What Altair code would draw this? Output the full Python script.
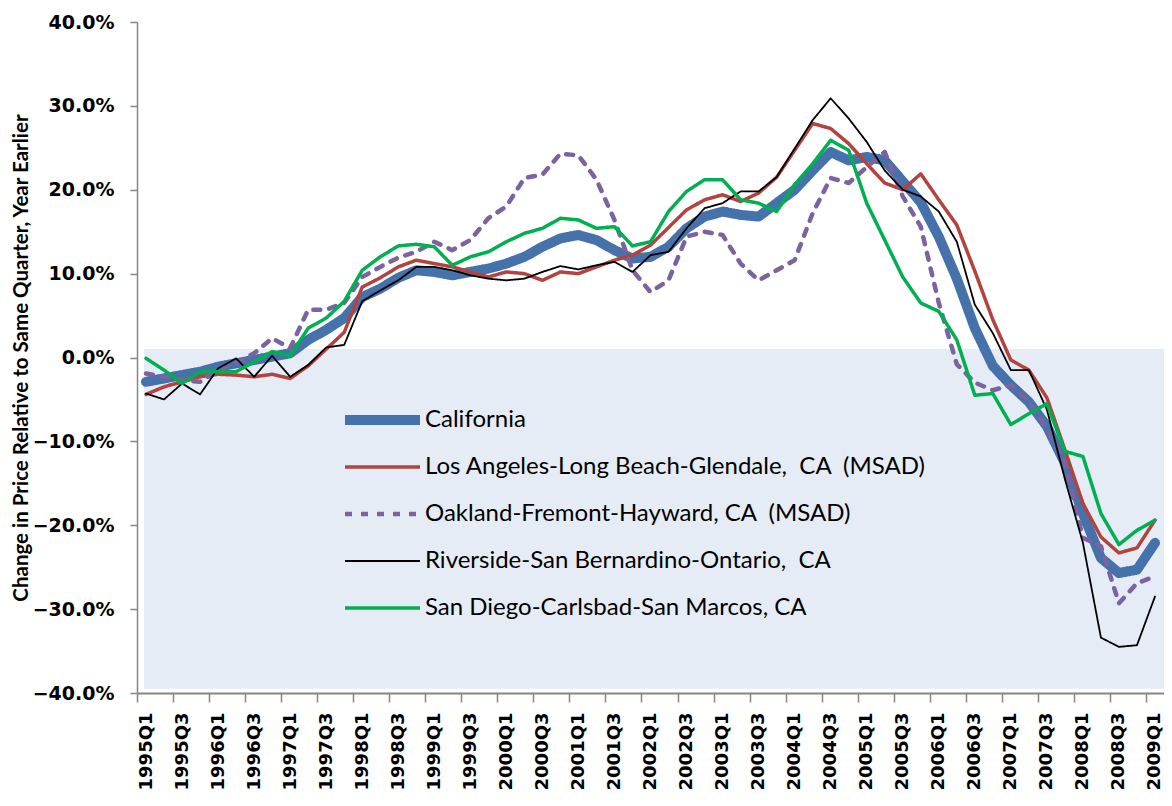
import altair as alt
import pandas as pd

# ---------------- data ----------------
quarters = [f"{y}Q{q}" for y in range(1995, 2010) for q in (1, 2, 3, 4)][:57]
tick_quarters = quarters[::2]

NB = "\u00a0"
series_names = [
    "California",
    f"Los Angeles-Long Beach-Glendale,{NB} CA{NB} (MSAD)",
    f"Oakland-Fremont-Hayward, CA{NB} (MSAD)",
    f"Riverside-San Bernardino-Ontario,{NB} CA",
    "San Diego-Carlsbad-San Marcos, CA",
]
series_colors = ["#4672AB", "#B3433F", "#7B62A0", "#000000", "#00B050"]
series_widths = [10, 3.5, 4.5, 1.8, 3.5]
series_dashes = [[1, 0], [1, 0], [7, 9], [1, 0], [1, 0]]

california = [-2.9, -2.5, -2.1, -1.7, -1.1, -0.7, -0.3, 0.1, 0.5, 2.1, 3.3, 4.7, 7.2, 8.2, 9.5,
              10.4, 10.2, 9.8, 10.2, 10.6, 11.2, 12.0, 13.2, 14.2, 14.6, 14.0, 12.8, 11.8, 12.0,
              13.2, 15.4, 16.8, 17.4, 17.0, 16.8, 18.4, 20.0, 22.3, 24.5, 23.5, 23.9, 23.5, 21.0,
              18.5, 14.4, 9.4, 3.5, -1.0, -3.3, -5.3, -8.2, -12.6, -18.6, -23.9, -25.7, -25.3, -22.1]
los_angeles = [-4.4, -3.5, -2.9, -2.3, -2.0, -2.1, -2.3, -2.0, -2.5, -1.0, 1.0, 3.0, 8.4, 9.5, 10.8,
               11.6, 11.2, 10.8, 10.2, 9.6, 10.2, 10.0, 9.2, 10.2, 10.0, 10.8, 11.6, 12.2, 13.4,
               15.5, 17.6, 18.8, 19.4, 18.6, 19.6, 21.5, 24.7, 27.9, 27.3, 25.5, 23.1, 20.8, 20.0,
               21.9, 18.8, 15.8, 10.3, 4.5, -0.3, -1.5, -4.8, -11.0, -17.4, -21.4, -23.3, -22.7, -19.4]
oakland = [-1.9, -2.3, -2.7, -2.9, -1.5, -0.7, 0.5, 2.3, 1.1, 5.7, 5.7, 6.5, 9.6, 10.8, 11.9,
           12.6, 13.8, 12.8, 14.0, 16.6, 18.0, 21.4, 21.8, 24.3, 24.1, 21.2, 16.4, 10.4, 7.8,
           9.2, 14.4, 15.0, 14.6, 11.2, 9.2, 10.4, 11.6, 17.2, 21.4, 20.8, 22.7, 24.5, 19.2,
           15.6, 6.5, -0.8, -3.0, -3.9, -3.3, -5.2, -8.5, -12.5, -21.5, -22.5, -29.3, -26.9, -26.1]
riverside = [-4.3, -5.0, -3.1, -4.4, -1.3, -0.1, -2.3, 0.2, -2.3, -0.9, 1.2, 1.5, 6.7, 8.0, 9.2,
             10.8, 10.8, 10.4, 9.8, 9.4, 9.2, 9.4, 10.2, 10.9, 10.5, 11.0, 11.4, 10.2, 12.2,
             12.6, 15.4, 17.8, 18.4, 19.8, 19.8, 21.5, 24.9, 28.3, 30.9, 28.5, 25.7, 22.3, 20.0,
             19.2, 17.4, 13.8, 6.3, 2.9, -1.5, -1.5, -6.2, -14.5, -22.1, -33.4, -34.5, -34.3, -28.5]
san_diego = [-0.1, -1.5, -3.1, -1.7, -1.7, -1.7, -0.5, 0.7, 0.2, 3.5, 4.7, 6.7, 10.4, 12.0, 13.3,
             13.5, 13.2, 11.0, 12.0, 12.6, 13.8, 14.8, 15.4, 16.6, 16.4, 15.4, 15.6, 13.3, 13.8,
             17.4, 19.8, 21.2, 21.2, 18.8, 18.4, 17.4, 20.6, 23.1, 25.9, 24.7, 18.4, 14.0, 9.6,
             6.5, 5.5, 2.1, -4.5, -4.3, -8.0, -6.7, -5.5, -11.2, -11.8, -18.6, -22.3, -20.6, -19.4]

series_values = [california, los_angeles, oakland, riverside, san_diego]
shade_bounds = [-39.5, 1.0]
y_ticks = [-40, -30, -20, -10, 0, 10, 20, 30, 40]

for vals in series_values:
    assert len(vals) == len(quarters)

rows = []
for name, vals in zip(series_names, series_values):
    for q, v in zip(quarters, vals):
        rows.append({"series": name, "quarter": q, "value": v})
df = pd.DataFrame(rows)
shade_df = pd.DataFrame({"lo": [shade_bounds[0]], "hi": [shade_bounds[1]]})

# ---------------- layout ----------------
W, H = 1027, 671
step = W / len(quarters)
y_title = "Change in Price Relative to Same Quarter, Year Earlier"

yscale = alt.Scale(domain=[-40, 40], nice=False, zero=False)
yaxis = alt.Axis(values=y_ticks, labelExpr="format(datum.value, '.1f') + '%'",
                 tickSize=7, labelPadding=16, titlePadding=1,
                 labelFontSize=19, domainWidth=1.5, tickWidth=1.5)

xaxis = alt.Axis(values=tick_quarters, labelAngle=-90, title=None,
                 tickOffset=-step / 2, labelOffset=step / 2,
                 labelFontSize=18, tickSize=9, labelPadding=10,
                 domainWidth=2, tickWidth=1.5)

leg = alt.Legend(title=None, orient="none", legendX=203, legendY=388,
                 symbolType="stroke", symbolSize=5625, clipHeight=20,
                 rowPadding=23, labelFont="Lato", labelFontSize=24,
                 labelColor="black", labelOffset=0, padding=0, labelLimit=1000)

shade = alt.Chart(shade_df).mark_rect(color="#E6ECF6").encode(
    y=alt.Y("lo:Q", scale=yscale, axis=yaxis, title=y_title),
    y2="hi:Q",
    x=alt.value(7),
    x2=alt.value(W),
)

lines = alt.Chart(df).mark_line(strokeJoin="round", strokeCap="round").encode(
    x=alt.X("quarter:N", sort=quarters,
            scale=alt.Scale(type="point", domain=quarters, padding=0.5), axis=xaxis),
    y=alt.Y("value:Q", scale=yscale, axis=yaxis, title=y_title),
    color=alt.Color("series:N", scale=alt.Scale(domain=series_names, range=series_colors), legend=leg),
    strokeWidth=alt.StrokeWidth("series:N", scale=alt.Scale(type="ordinal", domain=series_names,
                                                            range=series_widths), legend=leg),
    strokeDash=alt.StrokeDash("series:N", scale=alt.Scale(domain=series_names, range=series_dashes), legend=leg),
)

chart = alt.layer(shade, lines).properties(
    width=W, height=H,
    padding={"left": 129, "top": 14, "right": 0, "bottom": 100},
    autosize=alt.AutoSizeParams(type="none"),
    background="white",
).configure_view(stroke=None).configure_axis(
    grid=False,
    labelFont="DejaVu Sans", labelFontWeight="bold", labelColor="black",
    titleFont="Lato", titleFontWeight="bold", titleFontSize=20.5, titleColor="black",
    domainColor="#868686", tickColor="#868686",
)

chart.save("out.html", embed_options={"renderer": "svg", "actions": False})
